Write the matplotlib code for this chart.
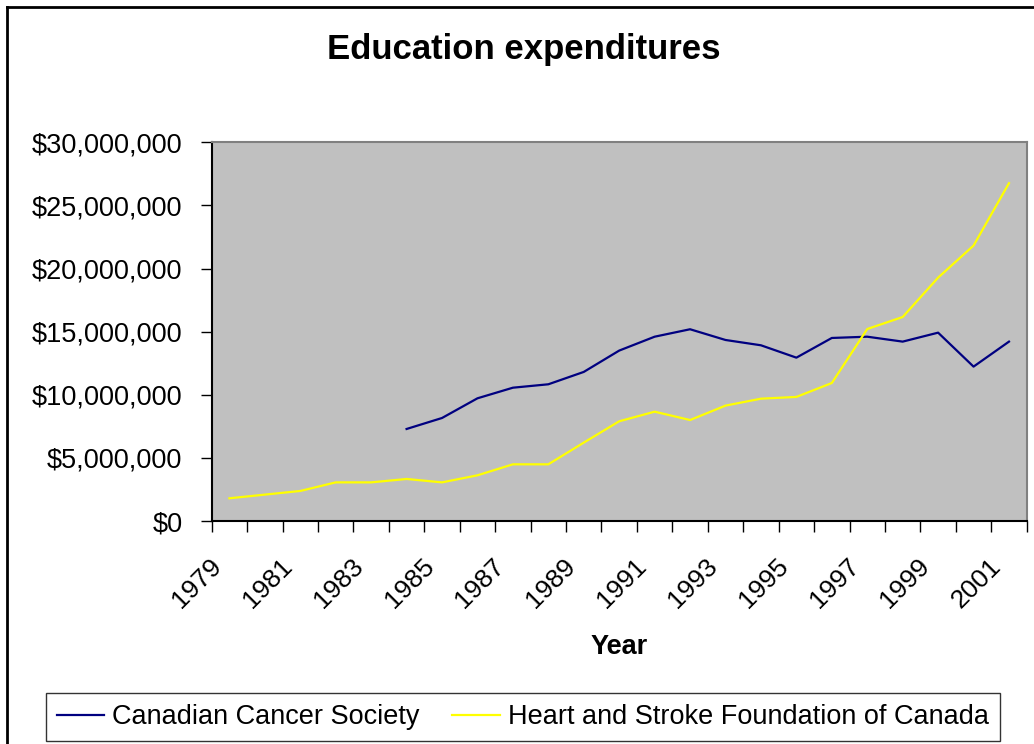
import matplotlib
matplotlib.use("Agg")
import matplotlib.pyplot as plt
from matplotlib.ticker import FuncFormatter, FixedLocator
from matplotlib.lines import Line2D
import matplotlib.transforms as mtransforms
import numpy as np

years = list(range(1979, 2002))
cancer_society = [None, None, None, None, None,
                  7.29, 8.16, 9.72, 10.56, 10.83, 11.81, 13.5, 14.6, 15.19,
                  14.34, 13.92, 12.94, 14.5, 14.6, 14.21, 14.92, 12.23, 14.21]
heart_stroke = [1.80, 2.09, 2.38, 3.06, 3.06, 3.33, 3.06, 3.62, 4.49, 4.49,
                6.21, 7.9, 8.66, 8.0, 9.14, 9.69, 9.83, 10.93, 15.21, 16.16,
                19.28, 21.82, 26.76]
series_names = ["Canadian Cancer Society", "Heart and Stroke Foundation of Canada"]

plt.rcParams["font.family"] = ["Liberation Sans", "DejaVu Sans"]

fig = plt.figure(figsize=(10.34, 7.44), dpi=100)
ax = fig.add_axes([211.7 / 1034, 1 - 521 / 744, 815 / 1034, (521 - 142.3) / 744])
ax.set_facecolor("#C0C0C0")

x = np.arange(len(years))
cancer = np.array([np.nan if v is None else v * 1e6 for v in cancer_society])
heart = np.array(heart_stroke) * 1e6
ax.plot(x, cancer, color="#000080", lw=1.6, label=series_names[0])
ax.plot(x, heart, color="#FFFF00", lw=1.6, label=series_names[1])

ax.set_xlim(-0.5, len(years) - 0.5)
ax.set_ylim(0, 30e6)
ax.set_yticks(np.arange(0, 30e6 + 1, 5e6))
ax.yaxis.set_major_formatter(FuncFormatter(lambda v, p: "${:,.0f}".format(v)))

# tick marks on category boundaries, labels on every other category centre
ax.xaxis.set_major_locator(FixedLocator(np.arange(-0.5, len(years), 1.0)))
ax.xaxis.set_major_formatter(FuncFormatter(lambda v, p: ""))
ax.xaxis.set_minor_locator(FixedLocator(x[::2]))
ax.set_xticklabels([str(y) for y in years[::2]], minor=True)
ax.tick_params(axis="x", which="major", length=8, width=1, direction="out")
ax.tick_params(axis="x", which="minor", length=0, pad=30, labelsize=19)
shift = mtransforms.ScaledTranslation(-12 / 100, 0, fig.dpi_scale_trans)
for lbl in ax.get_xticklabels(minor=True):
    lbl.set_rotation(45)
    lbl.set_ha("right")
    lbl.set_va("center")
    lbl.set_rotation_mode("anchor")
    lbl.set_transform(lbl.get_transform() + shift)
ax.tick_params(axis="y", length=8, width=1, direction="out", pad=13, labelsize=19.5)

for side in ["left", "bottom"]:
    ax.spines[side].set_color("black")
    ax.spines[side].set_linewidth(1.5)
for side in ["top", "right"]:
    ax.spines[side].set_color("#808080")
    ax.spines[side].set_linewidth(1.5)

fig.text(524 / 1034, 1 - 50 / 744, "Education expenditures", ha="center",
         va="center", fontsize=25, fontweight="bold")
fig.text(619 / 1034, 1 - 647 / 744, "Year", ha="center", va="center",
         fontsize=19.5, fontweight="bold")

leg = fig.legend(loc="center", bbox_to_anchor=(523 / 1034, 1 - 717 / 744),
                 ncol=2, fontsize=19.5, frameon=True, fancybox=False,
                 handlelength=1.75, handletextpad=0.3, columnspacing=1.2,
                 borderpad=0.4, borderaxespad=0)
leg.get_frame().set_edgecolor("black")
leg.get_frame().set_linewidth(1.0)

# outer chart border (cropped on right and bottom)
fig.add_artist(Line2D([6.5 / 1034, 6.5 / 1034], [0, 1 - 6.5 / 744],
                      transform=fig.transFigure, color="black", lw=2))
fig.add_artist(Line2D([6.5 / 1034, 1], [1 - 6.5 / 744, 1 - 6.5 / 744],
                      transform=fig.transFigure, color="black", lw=2))

fig.savefig("out.png", dpi=100)
